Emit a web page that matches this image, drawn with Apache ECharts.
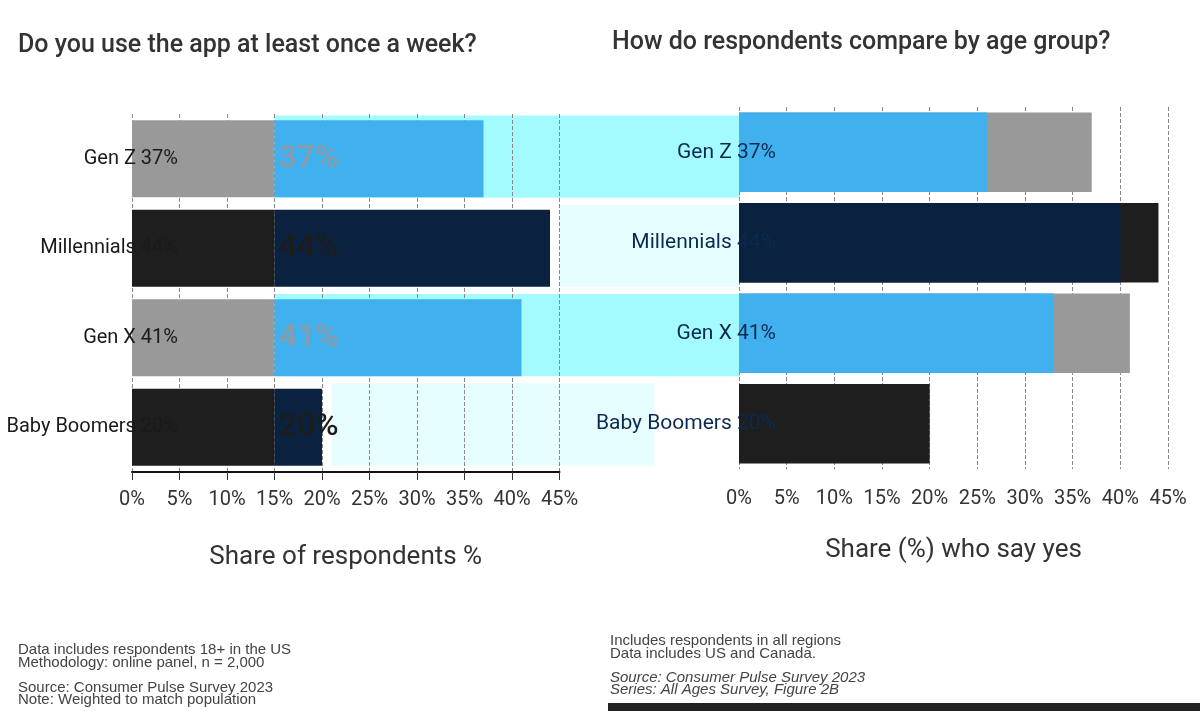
<!DOCTYPE html>
<html>
<head>
<meta charset="utf-8">
<title>Weekly use by generation</title>
<script src="https://cdn.jsdelivr.net/npm/echarts@6/dist/echarts.min.js"></script>
<style>
  html, body { margin: 0; padding: 0; background: #fff; }
  #chart { width: 1200px; height: 711px; }
</style>
</head>
<body>
<div id="chart"></div>
<script>
// data
const categories = ['Gen Z', 'Millennials', 'Gen X', 'Baby Boomers']
const shareValues = [37, 44, 41, 20]
const baseValues = [15, 15, 15, 15]
const compareValues = [26, 40, 33, null]
const bandStart = [15, 45, 15, 21]
const bandEnd = [64, 64, 64, 55]

const darkRows = [1, 3] // Millennials, Baby Boomers get the dark colours
const font = 'Roboto'

const restValues = shareValues.map((v, i) => v - baseValues[i])
const rowLabel = i => categories[i] + ' ' + shareValues[i] + '%'

const chart = echarts.init(document.getElementById('chart'))

const gridBase = { containLabel: false, outerBoundsMode: 'none' }

chart.setOption({
  animation: false,
  textStyle: { fontFamily: font },
  grid: [
    Object.assign({ left: 132, right: 460, top: 112, height: 357 }, gridBase), // background bands
    Object.assign({ left: 132, width: 427.5, top: 114, height: 358 }, gridBase), // left panel
    Object.assign({ left: 739, width: 429, top: 107, height: 362 }, gridBase) // right panel
  ],
  xAxis: [
    { gridIndex: 0, type: 'value', min: 0, max: 64, show: false },
    {
      gridIndex: 1, type: 'value', min: 0, max: 45, interval: 5, z: 1,
      axisLine: { show: true, lineStyle: { color: '#111', width: 2 } },
      axisTick: { show: true, length: 8, lineStyle: { color: '#333' } },
      axisLabel: { formatter: '{value}%', fontSize: 20, color: '#333', margin: 18 },
      splitLine: { lineStyle: { type: 'dashed', color: '#888' } },
      name: 'Share of respondents %', nameLocation: 'middle', nameGap: 72,
      nameTextStyle: { fontSize: 26, color: '#333' }
    },
    {
      gridIndex: 2, type: 'value', min: 0, max: 45, interval: 5, z: 1,
      axisLine: { show: false },
      axisTick: { show: false },
      axisLabel: { formatter: '{value}%', fontSize: 20, color: '#333', margin: 20 },
      splitLine: { lineStyle: { type: 'dashed', color: '#888' } },
      name: 'Share (%) who say yes', nameLocation: 'middle', nameGap: 68,
      nameTextStyle: { fontSize: 26, color: '#333' }
    }
  ],
  yAxis: [
    { gridIndex: 0, type: 'category', data: categories, inverse: true, show: false },
    {
      gridIndex: 1, type: 'category', data: categories, inverse: true, z: 3,
      axisLine: { show: false }, axisTick: { show: false },
      axisLabel: {
        margin: -46, fontSize: 20, color: '#1a1a1a',
        formatter: (v, i) => rowLabel(i)
      }
    },
    {
      gridIndex: 2, type: 'category', data: categories, inverse: true, z: 3,
      axisLine: { show: false }, axisTick: { show: false },
      axisLabel: {
        margin: -37, fontSize: 21, color: '#0b2a4f',
        formatter: (v, i) => rowLabel(i)
      }
    }
  ],
  series: [
    // cyan bands behind the left panel
    {
      type: 'bar', xAxisIndex: 0, yAxisIndex: 0, stack: 'band', z: 0,
      barWidth: '92%', silent: true,
      itemStyle: { color: 'transparent' },
      data: bandStart
    },
    {
      type: 'bar', xAxisIndex: 0, yAxisIndex: 0, stack: 'band', z: 0,
      barWidth: '92%', silent: true,
      data: bandEnd.map((v, i) => ({
        value: v - bandStart[i],
        itemStyle: { color: darkRows.includes(i) ? '#e6feff' : '#a3fbff' }
      }))
    },
    // left panel
    {
      type: 'bar', xAxisIndex: 1, yAxisIndex: 1, stack: 'share', barWidth: '86%',
      data: baseValues.map((v, i) => ({
        value: v,
        itemStyle: { color: darkRows.includes(i) ? '#1e1e1e' : '#999999' }
      }))
    },
    {
      type: 'bar', xAxisIndex: 1, yAxisIndex: 1, stack: 'share', barWidth: '86%',
      data: restValues.map((v, i) => ({
        value: v,
        itemStyle: { color: darkRows.includes(i) ? '#0a2240' : '#41b0ee' },
        label: { color: darkRows.includes(i) ? '#1c1c1c' : '#8e9aa6' }
      })),
      label: {
        show: true, position: 'insideLeft', distance: 4,
        fontSize: 32, fontWeight: 500,
        formatter: p => shareValues[p.dataIndex] + '%'
      }
    },
    // right panel
    {
      type: 'bar', xAxisIndex: 2, yAxisIndex: 2, barWidth: '88%', barGap: '-100%',
      data: shareValues.map((v, i) => ({
        value: v,
        itemStyle: { color: darkRows.includes(i) ? '#1e1e1e' : '#999999' }
      }))
    },
    {
      type: 'bar', xAxisIndex: 2, yAxisIndex: 2, barWidth: '88%', barGap: '-100%',
      data: compareValues.map((v, i) => ({
        value: v,
        itemStyle: { color: darkRows.includes(i) ? '#0a2240' : '#41b0ee' }
      }))
    }
  ],
  graphic: [
    {
      type: 'text', left: 18, top: 33,
      style: { text: 'Do you use the app at least once a week?', font: '500 25px Roboto', fill: '#333' }
    },
    {
      type: 'text', left: 612, top: 30,
      style: { text: 'How do respondents compare by age group?', font: '500 25px Roboto', fill: '#333' }
    },
    {
      type: 'text', left: 18, top: 642,
      style: {
        text: 'Data includes respondents 18+ in the US\nMethodology: online panel, n = 2,000',
        font: '15px "Liberation Sans"', fill: '#444', lineHeight: 13
      }
    },
    {
      type: 'text', left: 18, top: 680,
      style: {
        text: 'Source: Consumer Pulse Survey 2023\nNote: Weighted to match population',
        font: '15px "Liberation Sans"', fill: '#444', lineHeight: 12
      }
    },
    {
      type: 'text', left: 610, top: 633,
      style: {
        text: 'Includes respondents in all regions\nData includes US and Canada.',
        font: '15px "Liberation Sans"', fill: '#444', lineHeight: 13
      }
    },
    {
      type: 'text', left: 610, top: 670,
      style: {
        text: 'Source: Consumer Pulse Survey 2023\nSeries: All Ages Survey, Figure 2B',
        font: 'italic 15px "Liberation Sans"', fill: '#444', lineHeight: 12
      }
    },
    {
      type: 'rect', left: 608, top: 703,
      shape: { width: 592, height: 8 },
      style: { fill: '#222' }
    }
  ]
})
</script>
</body>
</html>
